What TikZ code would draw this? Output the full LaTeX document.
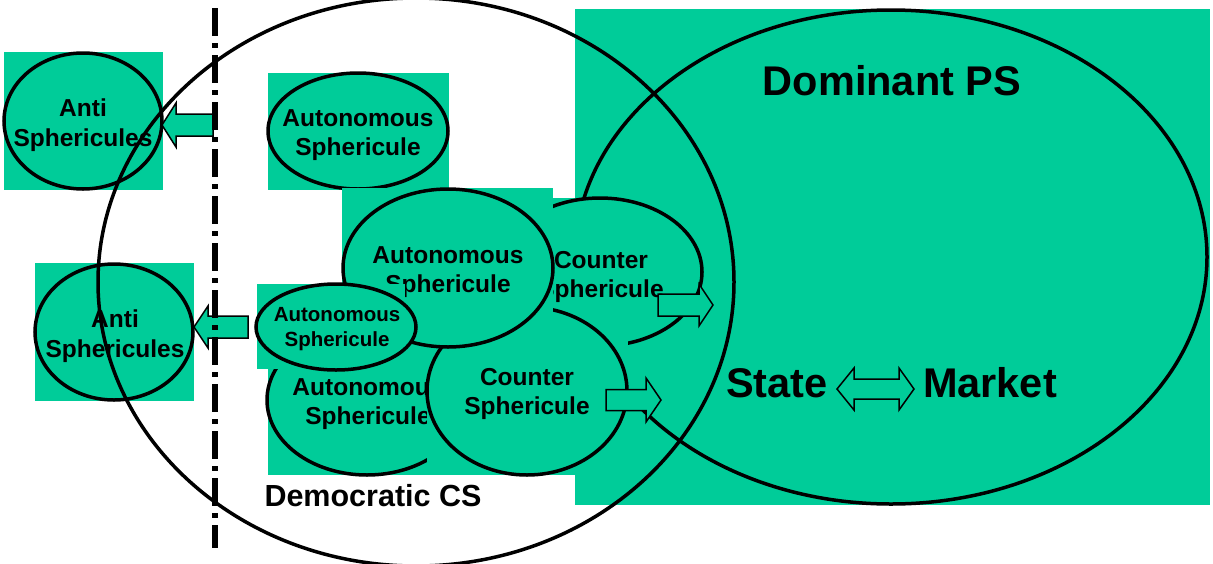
\documentclass[tikz,border=0pt]{standalone}
\usepackage{fontspec}
\setmainfont{Liberation Sans}
\definecolor{sphereGreen}{HTML}{00CC99}
\newcommand{\sphereFont}{\bfseries\fontsize{24.5}{29.5}\selectfont}
\newcommand{\smallSphereFont}{\bfseries\fontsize{20.5}{25}\selectfont}
\newcommand{\csFont}{\bfseries\fontsize{30.5}{36}\selectfont}
\newcommand{\psFont}{\bfseries\fontsize{41.5}{48}\selectfont}
\tikzstyle{canvas} = [x = 1pt, y = -1pt]
\tikzstyle{patchStyle} = [fill=sphereGreen]
\tikzstyle{sphereStyle} = [draw=black, fill=sphereGreen, line width=3.5pt]
\tikzstyle{outlineStyle} = [draw=black, line width=3.5pt]
\tikzstyle{sphereText} = [align=center, inner sep=0pt, font=\sphereFont]
\tikzstyle{smallText} = [align=center, inner sep=0pt, font=\smallSphereFont]
\tikzstyle{arrowStyle} = [fill=sphereGreen, draw=black, line width=1.5pt, line join=miter]
\tikzstyle{borderLine} = [line width=6pt, dash pattern=on 28pt off 7pt on 5pt off 7pt]
\newcommand{\greenPatch}[4]{\fill [patchStyle] (#1,#2) rectangle (#3,#4);}
\newcommand{\sphereShape}[4]{\filldraw [sphereStyle] (#1,#2) ellipse [x radius=#3pt, y radius=#4pt];}
\newcommand{\blockArrow}[6]{\filldraw [arrowStyle] (#1,#2) -- (#3,#2-#5) -- (#3,#2-#6) -- (#4,#2-#6) -- (#4,#2+#6) -- (#3,#2+#6) -- (#3,#2+#5) -- cycle;}
\newcommand{\doubleBlockArrow}[7]{\filldraw [arrowStyle] (#1,#2) -- (#3,#2-#6) -- (#3,#2-#7) -- (#4,#2-#7) -- (#4,#2-#6) -- (#5,#2) -- (#4,#2+#6) -- (#4,#2+#7) -- (#3,#2+#7) -- (#3,#2+#6) -- cycle;}
\begin{document}
\begin{tikzpicture}[canvas]
  \useasboundingbox (0,0) rectangle (1213,563);
  \clip (0,0) rectangle (1213,563);
  \greenPatch{575}{9}{1210}{505}
  \draw [outlineStyle] (891,257) ellipse [x radius=316pt, y radius=247pt];

  \greenPatch{4}{52}{163}{190}
  \sphereShape{83}{121}{79}{68}
  \node [sphereText] (antiTop) at (83,125) {Anti\\Sphericules};
  \greenPatch{35}{263}{194}{401}
  \sphereShape{114}{332}{79}{68}
  \node [sphereText] (antiLow) at (115,336) {Anti\\Sphericules};

  \greenPatch{268}{73}{449}{190}
  \sphereShape{358}{131}{90}{58}
  \node [sphereText] (autoTop) at (358,135) {Autonomous\\Sphericule};

  \greenPatch{553}{198}{705}{390}
  \sphereShape{600}{272}{102}{74}
  \node [sphereText] (counterTop) at (601,277) {Counter\\Sphericule};

  \greenPatch{268}{340}{427}{475}
  \sphereShape{367}{400}{100}{75}
  \node [sphereText] (autoLow) at (368,404) {Autonomous\\Sphericule};

  \greenPatch{427}{305}{628}{475}
  \sphereShape{527}{391}{100}{84}
  \node [sphereText] (counterLow) at (527,394) {Counter\\Sphericule};

  \greenPatch{342}{188}{553}{347}
  \sphereShape{448}{268}{105}{79}
  \node [sphereText] (autoMid) at (448,272) {Autonomous\\Sphericule};

  \greenPatch{257}{284}{405}{369}
  \sphereShape{336}{327}{80}{43}
  \node [smallText] (autoSmall) at (337,329) {Autonomous\\Sphericule};

  \blockArrow{162}{125}{176}{213}{22}{11}
  \blockArrow{194}{327}{208}{248}{21}{11}
  \blockArrow{713}{305}{699}{658}{21}{11}
  \blockArrow{661}{400}{646}{606}{22}{10.5}

  \draw [outlineStyle] (416,282) ellipse [x radius=318pt, y radius=284pt];
  \coordinate (borderTop) at (215,8);
  \coordinate (borderBottom) at (215,548);
  \draw [borderLine] (borderTop) -- (borderBottom);

  \node [font=\csFont] (civilLabel) at (373,496) {Democratic CS};
  \node [font=\psFont] (dominantLabel) at (892,81) {Dominant PS};
  \node [font=\psFont] (stateLabel) at (777,383) {State};
  \node [font=\psFont] (marketLabel) at (990,383) {Market};
  \doubleBlockArrow{837}{389}{854}{899}{914}{21}{10}
\end{tikzpicture}
\end{document}
